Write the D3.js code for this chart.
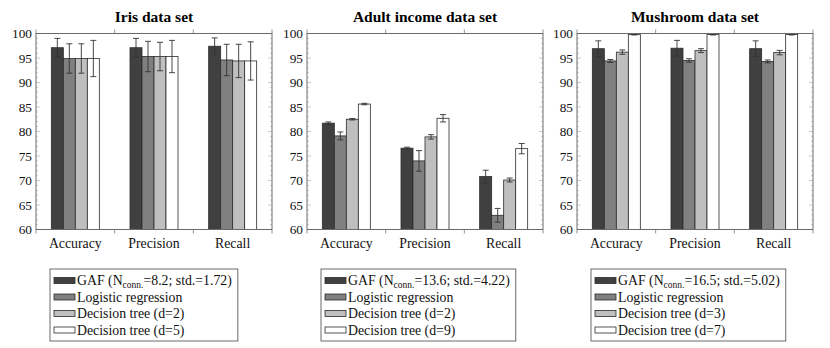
<!DOCTYPE html>
<html>
<head>
<meta charset="utf-8">
<script src="https://cdn.jsdelivr.net/npm/d3@7"></script>
<style>
  body { margin: 0; background: #fff; }
  text { font-family: "Liberation Serif", "DejaVu Serif", serif; }
</style>
</head>
<body>
<div id="chart"></div>
<script>
// categories and series
const categories = ["Accuracy", "Precision", "Recall"];
const panelTitles = ["Iris data set", "Adult income data set", "Mushroom data set"];
const gafConn = ["8.2", "13.6", "16.5"];
const gafStd = ["1.72", "4.22", "5.02"];
const treeDepthSmall = [2, 2, 3];
const treeDepthLarge = [5, 9, 7];
const yTicks = [60, 65, 70, 75, 80, 85, 90, 95, 100];

// rows = GAF, logistic regression, small tree, large tree; columns = categories
const irisMeans = [
  [97.1, 97.1, 97.4],
  [94.9, 95.3, 94.6],
  [94.9, 95.3, 94.4],
  [94.9, 95.3, 94.4]
];
const irisErrors = [
  [1.9, 1.9, 1.7],
  [3.0, 3.1, 3.2],
  [3.0, 2.9, 3.4],
  [3.7, 3.3, 3.9]
];
const adultMeans = [
  [81.7, 76.6, 70.8],
  [79.1, 74.0, 62.9],
  [82.5, 78.9, 70.1],
  [85.6, 82.7, 76.5]
];
const adultErrors = [
  [0.25, 0.2, 1.3],
  [0.8, 2.1, 1.4],
  [0.15, 0.45, 0.4],
  [0.15, 0.75, 1.05]
];
const mushroomMeans = [
  [96.9, 97.0, 96.9],
  [94.4, 94.5, 94.3],
  [96.2, 96.5, 96.1],
  [99.8, 99.8, 99.8]
];
const mushroomErrors = [
  [1.6, 1.6, 1.6],
  [0.3, 0.35, 0.3],
  [0.45, 0.4, 0.45],
  [0.1, 0.1, 0.1]
];

const allMeans = [irisMeans, adultMeans, mushroomMeans];
const allErrors = [irisErrors, adultErrors, mushroomErrors];
const fills = ["#404040", "#808080", "#bfbfbf", "#ffffff"];

const FONT = "'Liberation Serif', 'DejaVu Serif', serif";
const W = 830, H = 348;
const panelLeft = [36, 307, 577];
const plotW = 236, plotTop = 33.5, plotH = 196;
const barW = 12;

const svg = d3.select("#chart").append("svg")
  .attr("width", W).attr("height", H)
  .attr("font-family", FONT);

const x = d3.scaleBand().domain(categories).range([0, plotW]).padding(0);
const y = d3.scaleLinear().domain([60, 100]).range([plotH, 0]);
const xSub = d3.scaleBand().domain([0, 1, 2, 3])
  .range([x.bandwidth() / 2 - 2 * barW, x.bandwidth() / 2 + 2 * barW]);

panelTitles.forEach((title, p) => {
  const g = svg.append("g").attr("transform", `translate(${panelLeft[p]},${plotTop})`);

  g.append("text")
    .attr("x", plotW / 2).attr("y", -12)
    .attr("text-anchor", "middle")
    .attr("font-family", FONT)
    .style("font-size", "15.5px").style("font-weight", "bold")
    .text(title);

  // minor y ticks, both sides inward
  const minor = d3.range(60, 100.5, 1);
  g.append("g").selectAll("line").data(minor).join("line")
    .attr("x1", 0).attr("x2", d => d % 5 === 0 ? 4 : 2)
    .attr("y1", d => y(d)).attr("y2", d => y(d))
    .attr("stroke", "#aaa").attr("stroke-width", 0.6);
  g.append("g").selectAll("line").data(minor).join("line")
    .attr("x1", plotW).attr("x2", d => plotW - (d % 5 === 0 ? 4 : 2))
    .attr("y1", d => y(d)).attr("y2", d => y(d))
    .attr("stroke", "#aaa").attr("stroke-width", 0.6);

  // y labels
  const yAxis = g.append("g").call(d3.axisLeft(y).tickValues(yTicks).tickSize(0).tickPadding(4));
  yAxis.attr("font-family", FONT);
  yAxis.select(".domain").remove();
  yAxis.selectAll("text")
    .attr("font-family", FONT)
    .style("font-size", "13.3px").attr("fill", "#111");

  // x ticks at group boundaries, outward top and bottom
  const bounds = categories.map(c => x(c)).concat([plotW]);
  g.append("g").selectAll("line").data(bounds).join("line")
    .attr("x1", d => d).attr("x2", d => d)
    .attr("y1", plotH).attr("y2", plotH + 4)
    .attr("stroke", "#777").attr("stroke-width", 0.8);
  g.append("g").selectAll("line").data(bounds).join("line")
    .attr("x1", d => d).attr("x2", d => d)
    .attr("y1", 0).attr("y2", -4)
    .attr("stroke", "#777").attr("stroke-width", 0.8);

  // x labels
  g.append("g").selectAll("text").data(categories).join("text")
    .attr("x", d => x(d) + x.bandwidth() / 2)
    .attr("y", plotH + 18)
    .attr("text-anchor", "middle")
    .attr("font-family", FONT)
    .style("font-size", "13.8px").attr("fill", "#111")
    .text(d => d);

  // bars
  const means = allMeans[p], errs = allErrors[p];
  const rows = [];
  means.forEach((row, s) => row.forEach((v, c) => rows.push({ s, c: categories[c], v, e: errs[s][c] })));

  g.append("g").selectAll("rect").data(rows).join("rect")
    .attr("x", d => x(d.c) + xSub(d.s))
    .attr("y", d => y(d.v))
    .attr("width", xSub.bandwidth())
    .attr("height", d => plotH - y(d.v))
    .attr("fill", d => fills[d.s])
    .attr("stroke", "#2b2b2b").attr("stroke-width", 0.8);

  // error bars
  const eb = g.append("g").attr("stroke", "#333").attr("stroke-width", 0.9);
  eb.selectAll("line.v").data(rows).join("line").attr("class", "v")
    .attr("x1", d => x(d.c) + xSub(d.s) + barW / 2).attr("x2", d => x(d.c) + xSub(d.s) + barW / 2)
    .attr("y1", d => y(d.v + d.e)).attr("y2", d => y(d.v - d.e));
  ["hi", "lo"].forEach(k => {
    eb.selectAll("line." + k).data(rows).join("line").attr("class", k)
      .attr("x1", d => x(d.c) + xSub(d.s) + barW / 2 - 3)
      .attr("x2", d => x(d.c) + xSub(d.s) + barW / 2 + 3)
      .attr("y1", d => y(k === "hi" ? d.v + d.e : d.v - d.e))
      .attr("y2", d => y(k === "hi" ? d.v + d.e : d.v - d.e));
  });

  // frame
  g.append("rect").attr("x", 0).attr("y", 0).attr("width", plotW).attr("height", plotH)
    .attr("fill", "none").attr("stroke", "#6a6a6a").attr("stroke-width", 1);

  // legend
  const lg = svg.append("g").attr("transform", `translate(${panelLeft[p] + 14},269)`);
  const box = lg.append("rect").attr("x", 0).attr("y", 0).attr("height", 72)
    .attr("fill", "#fff").attr("stroke", "#6a6a6a").attr("stroke-width", 1);
  const rowY = [11.5, 28, 44.5, 61];
  let maxW = 0;
  for (let s = 0; s < 4; s++) {
    lg.append("rect").attr("x", 4).attr("y", rowY[s] - 3).attr("width", 21).attr("height", 6)
      .attr("fill", fills[s]).attr("stroke", "#2b2b2b").attr("stroke-width", 0.8);
    const t = lg.append("text").attr("x", 27).attr("y", rowY[s] + 4.5)
      .attr("font-family", FONT)
      .style("font-size", "13.8px").attr("fill", "#111");
    if (s === 0) {
      t.append("tspan").text("GAF (N");
      t.append("tspan").attr("dy", 3).style("font-size", "9.5px").text("conn.");
      t.append("tspan").attr("dy", -3).text(`=${gafConn[p]}; std.=${gafStd[p]})`);
    } else if (s === 1) {
      t.text("Logistic regression");
    } else if (s === 2) {
      t.text(`Decision tree (d=${treeDepthSmall[p]})`);
    } else {
      t.text(`Decision tree (d=${treeDepthLarge[p]})`);
    }
    maxW = Math.max(maxW, t.node().getComputedTextLength());
  }
  box.attr("width", 27 + maxW + 6);
});
</script>
</body>
</html>
